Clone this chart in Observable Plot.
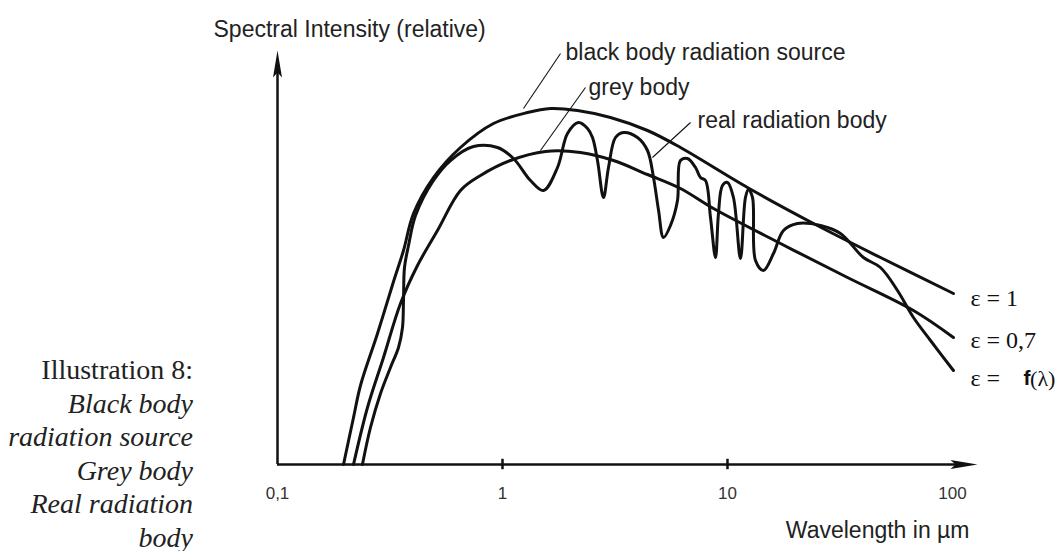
<!DOCTYPE html>
<html>
<head>
<meta charset="utf-8">
<script src="https://cdn.jsdelivr.net/npm/d3@7"></script>
<script src="https://cdn.jsdelivr.net/npm/@observablehq/plot@0.6"></script>
<style>
  body { margin: 0; background: #fff; }
  #wrap { position: relative; width: 1061px; height: 551px; }
  #chart { position: absolute; left: 0; top: 0; }
  #caption {
    position: absolute; left: 0; top: 353px; width: 193px;
    text-align: right; color: #222;
    font: 28px/33.5px "Liberation Serif", "Times New Roman", serif;
  }
  #caption .i { font-style: italic; }
</style>
</head>
<body>
<div id="wrap">
  <div id="chart"></div>
  <div id="caption"></div>
</div>
<script>
// wavelength (µm) and relative intensity

const blackX = [0.1965, 0.2177, 0.2338, 0.2783, 0.3279, 0.3631, 0.4022, 0.4935, 0.6506, 0.912,
  1.292, 1.634, 2.154, 3.02, 4.41, 6.18, 12.27, 24.12, 47.86, 101];
const blackY = [0, 11.75, 19.75, 32.75, 45.75, 53.5, 62.75, 71.75, 79.25, 85.25,
  88, 89, 88.5, 86.75, 83.5, 79.25, 69.25, 60.25, 51.75, 42.75];

const greyX = [0.2177, 0.2512, 0.2959, 0.3521, 0.419, 0.5141, 0.6506, 0.7987, 1.085, 1.553,
  2.222, 3.114, 4.41, 6.18, 8.667, 17.2, 34.15, 67.08, 101];
const greyY = [0, 14.25, 26.75, 40.25, 49.75, 58.5, 68.5, 72.25, 76, 78.25,
  78, 76, 72.5, 69, 64, 55.25, 46.75, 38.5, 31.75];

const realX = [0.2385, 0.259, 0.287, 0.3178, 0.345, 0.3594, 0.3631, 0.3668, 0.3822, 0.4107,
  0.4935, 0.5874, 0.7434, 0.9501, 1.119, 1.332, 1.521, 1.756, 1.945, 2.176,
  2.387, 2.512, 2.644, 2.811, 2.959, 3.179, 3.45, 3.981, 4.41, 4.69,
  4.94, 5.195, 5.58, 5.995, 6.18, 6.64, 7.21, 7.586, 7.985, 8.405,
  8.845, 9.12, 9.5, 10, 10.63, 11.42, 12.02, 12.4, 12.92, 13.32,
  14.45, 16.01, 17.74, 20.47, 25.91, 31.78, 40.21, 47.86, 56.96, 67.08,
  79.85, 101];
const realY = [0, 9.25, 17.75, 24.25, 29.25, 34.25, 41, 49.25, 54.75, 62.25,
  71, 76, 79.5, 79.25, 76.5, 71, 68.5, 74.25, 82.75, 85.5,
  84, 81.75, 76, 66.75, 74.25, 81.75, 83, 81.75, 78.5, 71.75,
  63.5, 56.75, 59.75, 66, 76, 76.5, 74.25, 71.75, 71, 61.75,
  51.75, 62.75, 69.75, 70.5, 66.75, 51.5, 66.75, 68.75, 66.75, 51,
  48.5, 52.75, 58.5, 60.25, 59.75, 57.75, 51.75, 49.25, 43.5, 36.75,
  31, 23.5];

const tickValues = [0.1, 1, 10, 100];
const tickLabels = ["0,1", "1", "10", "100"];

// leader lines from the curve names to the curves
const leaderNames = ["black body radiation source", "grey body", "real radiation body"];
const leaderX1 = [1.811, 2.338, 6.85];
const leaderY1 = [102.75, 94.25, 85.5];
const leaderX2 = [1.24, 1.475, 4.64];
const leaderY2 = [89, 78.5, 76.75];

const epsLabels = ["ε = 1", "ε = 0,7"];

const captionLines = ["Illustration 8:", "Black body", "radiation source", "Grey body", "Real radiation", "body"];

const rows = (xs, ys) => xs.map((x, i) => ({x, y: ys[i]}));
const black = rows(blackX, blackY);
const grey = rows(greyX, greyY);
const real = rows(realX, realY);
const leaders = leaderNames.map((label, i) => ({
  label, x1: leaderX1[i], y1: leaderY1[i], x2: leaderX2[i], y2: leaderY2[i]
}));

const X_MAX = 129.2, Y_MAX = 103.5;
const INK = "#111";
const sans = "'Liberation Sans', Arial, sans-serif";
const serif = "'Liberation Serif', 'Times New Roman', serif";

// narrow filled arrow heads, tip at the origin
const arrowRight = {draw(ctx) { ctx.moveTo(0, 0); ctx.lineTo(-27, -4.5); ctx.lineTo(-22, 0); ctx.lineTo(-27, 4.5); ctx.closePath(); }};
const arrowUp = {draw(ctx) { ctx.moveTo(0, 0); ctx.lineTo(4.5, 27); ctx.lineTo(0, 22); ctx.lineTo(-4.5, 27); ctx.closePath(); }};

const curveOpts = {x: "x", y: "y", curve: "catmull-rom", stroke: INK, strokeWidth: 3, strokeLinejoin: "round"};
const ends = [black, grey, real].map(s => s[s.length - 1]);

// pixel nudges for the names and the ε labels
const leaderOffsets = [[5, -1], [3, 0], [7, -2]];
const epsOffsets = [[17, 5], [17, 3]];

const leaderText = leaders.map((d, i) =>
  Plot.text([d], {x: "x1", y: "y1", text: "label", textAnchor: "start",
    dx: leaderOffsets[i][0], dy: leaderOffsets[i][1], fontSize: 23, fill: "#222"}));

const epsText = epsLabels.map((t, i) =>
  Plot.text([ends[i]], {x: "x", y: "y", text: () => t, textAnchor: "start",
    dx: epsOffsets[i][0], dy: epsOffsets[i][1], fontFamily: serif, fontSize: 24, fill: "#111"}));

const chart = Plot.plot({
  width: 1061,
  height: 551,
  marginLeft: 277,
  marginRight: 84,
  marginTop: 50,
  marginBottom: 87,
  style: {fontFamily: sans, background: "transparent"},
  x: {type: "log", domain: [0.1, X_MAX], axis: null},
  y: {domain: [0, Y_MAX], axis: null},
  marks: [
    // axes
    Plot.ruleY([0], {x1: 0.1, x2: 110, stroke: INK, strokeWidth: 2.5}),
    Plot.ruleX([0.1], {y1: 0, y2: 98, stroke: INK, strokeWidth: 2.5}),
    Plot.ruleX([1, 10], {y1: -1.3, y2: 1.3, stroke: INK, strokeWidth: 2.5}),
    Plot.dot([{x: X_MAX, y: 0}], {x: "x", y: "y", symbol: arrowRight, fill: INK, stroke: "none"}),
    Plot.dot([{x: 0.1, y: Y_MAX}], {x: "x", y: "y", symbol: arrowUp, fill: INK, stroke: "none"}),
    Plot.text(tickValues, {x: d => d, y: 0, dy: 29, text: (d, i) => tickLabels[i], fontSize: 17, fill: "#333"}),
    Plot.text(["Spectral Intensity (relative)"], {frameAnchor: "top-left", dx: -64, dy: -30, textAnchor: "start", fontSize: 23, fill: "#222"}),
    Plot.text(["Wavelength in µm"], {frameAnchor: "bottom-right", dx: -8, dy: 73, textAnchor: "end", fontSize: 23, fill: "#222"}),

    // curves
    Plot.line(black, curveOpts),
    Plot.line(grey, curveOpts),
    Plot.line(real, curveOpts),

    // leaders and names
    Plot.link(leaders, {x1: "x1", y1: "y1", x2: "x2", y2: "y2", stroke: INK, strokeWidth: 1.1}),
    ...leaderText,

    // emissivity labels at the right ends
    ...epsText,
    Plot.text([ends[2]], {x: "x", y: "y", text: () => "ε =", dx: 17, dy: 8, textAnchor: "start", fontFamily: serif, fontSize: 24, fill: "#111"}),
    Plot.text([ends[2]], {x: "x", y: "y", text: () => "f", dx: 70, dy: 8, textAnchor: "start", fontFamily: sans, fontWeight: "bold", fontSize: 21, fill: "#111"}),
    Plot.text([ends[2]], {x: "x", y: "y", text: () => "(λ)", dx: 102, dy: 8, textAnchor: "end", fontFamily: serif, fontSize: 22, fill: "#111"})
  ]
});

document.getElementById("chart").appendChild(chart);

const cap = document.getElementById("caption");
captionLines.forEach((t, i) => {
  const div = document.createElement("div");
  div.textContent = t;
  if (i > 0) div.className = "i";
  cap.appendChild(div);
});
</script>
</body>
</html>
